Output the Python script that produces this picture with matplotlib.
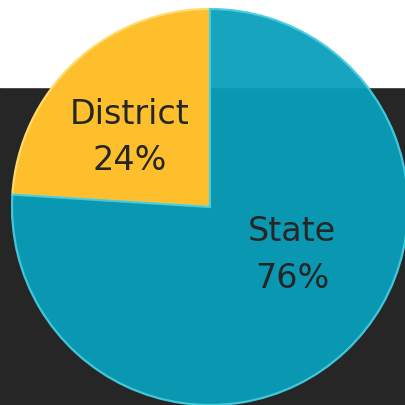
import numpy as np
import matplotlib.pyplot as plt
from matplotlib.patches import Rectangle

# data
labels = ['District', 'State']
shares = [24, 76]
colors = ['#fdbf2b', '#089fbb']
edge_colors = ['#ffd96a', '#45cde0']
alphas = [1.0, 0.94]

W, H = 405, 406
fig = plt.figure(figsize=(W / 100, H / 100), dpi=100)
ax = fig.add_axes([0, 0, 1, 1])

# background: white strip at top, dark panel below
ax.add_patch(Rectangle((0, 0), W, H - 88, color='#262626', zorder=0))
ax.add_patch(Rectangle((0, H - 88), W, 88, color='white', zorder=0))

cx, cy, r = 210, H - 208, 198
wedges, _ = ax.pie(shares, colors=colors, startangle=90, counterclock=True,
                   center=(cx, cy), radius=r, frame=True,
                   wedgeprops=dict(linewidth=1.6, zorder=2))
for w, ec, a in zip(wedges, edge_colors, alphas):
    w.set_edgecolor(ec)
    w.set_alpha(a)

# labels placed like the original slide
label_pos = [(130, H - 138), (292, H - 255)]
for lab, val, (tx, ty) in zip(labels, shares, label_pos):
    ax.text(tx, ty, '%s\n%d%%' % (lab, val), ha='center', va='center',
            fontsize=24, color='#262626', linespacing=1.5, zorder=3,
            family='DejaVu Sans')

ax.set_xlim(0, W)
ax.set_ylim(0, H)
ax.set_aspect('equal')
ax.axis('off')
fig.savefig('out.png', dpi=100)
